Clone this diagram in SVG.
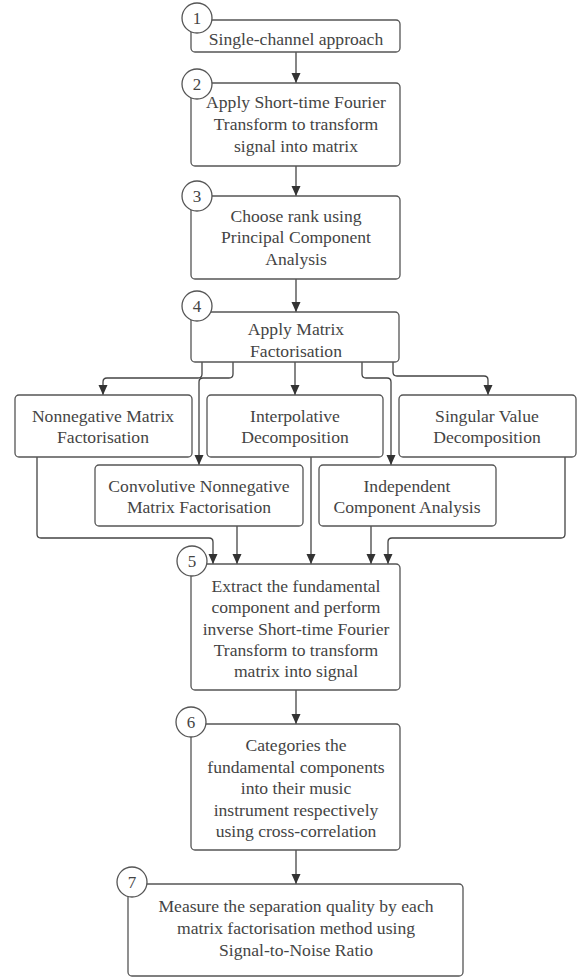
<svg xmlns="http://www.w3.org/2000/svg" width="580" height="978" viewBox="0 0 580 978">
<style>
.box{fill:#fff;stroke:#555;stroke-width:1.3}
.num{fill:#fff;stroke:#555;stroke-width:1.3}
.t{font-family:"Liberation Serif","Times New Roman",serif;font-size:17.6px;fill:#444;text-anchor:middle}
.n{font-family:"Liberation Serif","Times New Roman",serif;font-size:17px;fill:#444;text-anchor:middle}
.c{fill:none;stroke:#444;stroke-width:1.3}
</style>
<defs>
<marker id="ah" viewBox="0 0 10 10" refX="10" refY="5" markerWidth="10" markerHeight="10" markerUnits="userSpaceOnUse" orient="auto">
<path d="M0,0.5 L10,5 L0,9.5 z" fill="#333"/>
</marker>
</defs>
<rect width="580" height="978" fill="#fff"/>
<g id="connectors">
<path class="c" d="M296,52 V83" marker-end="url(#ah)"/>
<path class="c" d="M296,166 V196" marker-end="url(#ah)"/>
<path class="c" d="M296,279 V312" marker-end="url(#ah)"/>
<path class="c" d="M202,362 V374 Q202,378 198,378 H107 Q103,378 103,382 V395" marker-end="url(#ah)"/>
<path class="c" d="M233,362 V374 Q233,378 229,378 H203 Q199,378 199,382 V465" marker-end="url(#ah)"/>
<path class="c" d="M295,362 V395" marker-end="url(#ah)"/>
<path class="c" d="M362,362 V374 Q362,378 366,378 H387 Q391,378 391,382 V465" marker-end="url(#ah)"/>
<path class="c" d="M393,362 V372 Q393,376 397,376 H484 Q488,376 488,380 V395" marker-end="url(#ah)"/>
<path class="c" d="M37,457 V534 Q37,538 41,538 H209 Q213,538 213,542 V564" marker-end="url(#ah)"/>
<path class="c" d="M237,526 V564" marker-end="url(#ah)"/>
<path class="c" d="M311,457 V564" marker-end="url(#ah)"/>
<path class="c" d="M371,526 V564" marker-end="url(#ah)"/>
<path class="c" d="M565,457 V534 Q565,538 561,538 H392 Q388,538 388,542 V564" marker-end="url(#ah)"/>
<path class="c" d="M296,690 V724" marker-end="url(#ah)"/>
<path class="c" d="M296,850 V884" marker-end="url(#ah)"/>
</g>
<g id="node1">
<rect class="box" x="191" y="20" width="209" height="32" rx="4"/>
<circle class="num" cx="197" cy="18" r="15"/>
<text class="n" x="197" y="24">1</text>
<text class="t" x="296" y="45">Single-channel approach</text>
</g>
<g id="node2">
<rect class="box" x="191" y="83" width="209" height="83" rx="4"/>
<circle class="num" cx="197" cy="84" r="15"/>
<text class="n" x="197" y="90">2</text>
<text class="t" x="296" y="108">Apply Short-time Fourier</text>
<text class="t" x="296" y="130">Transform to transform</text>
<text class="t" x="296" y="152">signal into matrix</text>
</g>
<g id="node3">
<rect class="box" x="191" y="196" width="209" height="83" rx="4"/>
<circle class="num" cx="197" cy="196" r="15"/>
<text class="n" x="197" y="202">3</text>
<text class="t" x="296" y="222">Choose rank using</text>
<text class="t" x="296" y="243">Principal Component</text>
<text class="t" x="296" y="265">Analysis</text>
</g>
<g id="node4">
<rect class="box" x="191" y="312" width="208" height="50" rx="4"/>
<circle class="num" cx="197" cy="306" r="15"/>
<text class="n" x="197" y="312">4</text>
<text class="t" x="296" y="335">Apply Matrix</text>
<text class="t" x="296" y="357">Factorisation</text>
</g>
<g id="nmf">
<rect class="box" x="15" y="395" width="177" height="62" rx="4"/>
<text class="t" x="103" y="422">Nonnegative Matrix</text>
<text class="t" x="103" y="443">Factorisation</text>
</g>
<g id="id">
<rect class="box" x="207" y="395" width="176" height="62" rx="4"/>
<text class="t" x="295" y="422">Interpolative</text>
<text class="t" x="295" y="443">Decomposition</text>
</g>
<g id="svd">
<rect class="box" x="399" y="395" width="177" height="62" rx="4"/>
<text class="t" x="487" y="422">Singular Value</text>
<text class="t" x="487" y="443">Decomposition</text>
</g>
<g id="cnmf">
<rect class="box" x="95" y="465" width="208" height="61" rx="4"/>
<text class="t" x="199" y="492">Convolutive Nonnegative</text>
<text class="t" x="199" y="513">Matrix Factorisation</text>
</g>
<g id="ica">
<rect class="box" x="319" y="465" width="177" height="61" rx="4"/>
<text class="t" x="407" y="492">Independent</text>
<text class="t" x="407" y="513">Component Analysis</text>
</g>
<g id="node5">
<rect class="box" x="191" y="564" width="209" height="126" rx="4"/>
<circle class="num" cx="192" cy="561" r="15"/>
<text class="n" x="192" y="567">5</text>
<text class="t" x="296" y="592">Extract the fundamental</text>
<text class="t" x="296" y="613">component and perform</text>
<text class="t" x="296" y="635">inverse Short-time Fourier</text>
<text class="t" x="296" y="656">Transform to transform</text>
<text class="t" x="296" y="677">matrix into signal</text>
</g>
<g id="node6">
<rect class="box" x="191" y="724" width="209" height="126" rx="4"/>
<circle class="num" cx="191" cy="722" r="15"/>
<text class="n" x="191" y="728">6</text>
<text class="t" x="296" y="751">Categories the</text>
<text class="t" x="296" y="773">fundamental components</text>
<text class="t" x="296" y="794">into their music</text>
<text class="t" x="296" y="816">instrument respectively</text>
<text class="t" x="296" y="837">using cross-correlation</text>
</g>
<g id="node7">
<rect class="box" x="128" y="884" width="335" height="92" rx="4"/>
<circle class="num" cx="132" cy="882" r="15"/>
<text class="n" x="132" y="888">7</text>
<text class="t" x="296" y="912">Measure the separation quality by each</text>
<text class="t" x="296" y="934">matrix factorisation method using</text>
<text class="t" x="296" y="956">Signal-to-Noise Ratio</text>
</g>
</svg>
